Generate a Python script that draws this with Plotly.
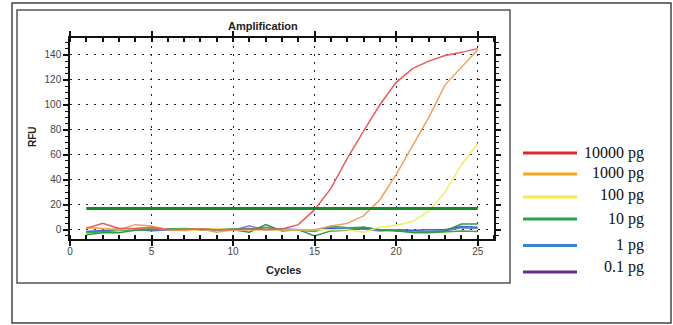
import plotly.graph_objects as go

cycles = list(range(1, 26))
s_10000 = [1, 5, 1, 1, 2, 0, 0, 0.5, 0, 0, 0, 0, 0.5, 4, 16, 33, 57, 79, 100, 118, 129, 135, 139.5, 142, 145]
s_1000 = [2, 1, 0, 4, 3, 0, 0, 0.5, -2, 0, 0, 0, 0, 0, 0, 3, 5, 11, 24, 44, 67, 90, 116, 130, 144]
s_100 = [1, 1, 0, 1, 2, 0, -1, 0, 1, 0, 0, 0, 0, 0, 0, 0, 0, -2, 2, 3.5, 6.5, 15, 30, 52, 69]
s_10 = [-4, -2.5, -2.5, -0.5, 0, 0.5, 0, 0, 0, 0, -2, 4, -1, 0, -5, -1, -0.5, 2, 0, -1, -2, -2, -1, 4.5, 4.5]
s_10_rep = [-2.5, -1.5, -1, 0, 1, 0.5, 1, 0.5, 0.5, 0, 0.5, 2, 0, 0, -1, 3, 1.5, 2, 0, 0, -2.5, -2.5, -1.5, -1, -1.5]
s_1 = [-1.5, -0.5, 0, 0.5, 0, 0, 0.5, 0, 0, 0.5, 1, 0, 0.5, 0, 0, 1, 0, 1, 0, 0, -0.5, 0, 0, 2.5, 2]
s_01 = [-2, -1, 1, 0.5, -1, 0, 0, -0.5, 1, -0.5, 3, -0.5, 0.5, -0.5, -1.5, 2, 0.5, 0.5, -1, -0.5, -1, -1.5, -1, 1.5, 1]
threshold = 17

legend_labels = ["10000 pg", "1000 pg", "100 pg", "10 pg", "1 pg", "0.1 pg"]
legend_colors = ["#e3262b", "#f4a520", "#f7ea4a", "#2ea04a", "#3585d0", "#6a2c90"]

W, H = 673, 325
PL, PR, PT, PB = 70, 494, 38, 239


def px(x):
    return (x - PL) / (PR - PL)


def py(y):
    return (PB - y) / (PB - PT)


fig = go.Figure()

series = [
    (s_01, "#8a78d6"),
    (s_1, "#3b5fd0"),
    (s_10_rep, "#3aa655"),
    (s_10, "#2f9a45"),
    (s_100, "#f2ec66"),
    (s_1000, "#f4a05a"),
    (s_10000, "#ef5a5c"),
]
for vals, col in series:
    fig.add_trace(go.Scatter(x=cycles, y=vals, mode="lines",
                             line=dict(color=col, width=1.5), showlegend=False,
                             hoverinfo="skip"))

fig.add_trace(go.Scatter(x=[cycles[0], cycles[-1]], y=[threshold, threshold], mode="lines",
                         line=dict(color="#17892a", width=3), showlegend=False))

grid_dash = "1.5px,6.5px"
fig.update_xaxes(range=[0, 26], tickvals=[0, 5, 10, 15, 20, 25], showgrid=True,
                 gridcolor="#222222", griddash=grid_dash, gridwidth=1,
                 showline=True, linecolor="#111111", linewidth=1.5, mirror="ticks",
                 ticks="outside", ticklen=5, tickcolor="#111111", tickwidth=1.5,
                 ticklabelstandoff=-3,
                 minor=dict(tickvals=list(range(0, 27)), ticks="inside", ticklen=4,
                            tickcolor="#111111", tickwidth=1.5, showgrid=False),
                 tickfont=dict(family="Liberation Sans, Arial", size=10, color="#444444"),
                 zeroline=False)
fig.update_yaxes(range=[-7.5, 153.5], tickvals=[0, 20, 40, 60, 80, 100, 120, 140], showgrid=True,
                 gridcolor="#222222", griddash=grid_dash, gridwidth=1,
                 showline=True, linecolor="#111111", linewidth=1.5, mirror="ticks",
                 ticks="outside", ticklen=5, tickcolor="#111111", tickwidth=1.5,
                 minor=dict(tickvals=list(range(-5, 155, 5)), ticks="outside", ticklen=3,
                            tickcolor="#111111", tickwidth=1, showgrid=False),
                 tickfont=dict(family="Liberation Sans, Arial", size=10, color="#444444"),
                 zeroline=False)

shapes = [
    dict(type="rect", xref="paper", yref="paper", x0=px(12), x1=px(671), y0=py(323), y1=py(3),
         line=dict(color="#444444", width=1.5), layer="below"),
    dict(type="rect", xref="paper", yref="paper", x0=px(17), x1=px(510), y0=py(283), y1=py(10),
         line=dict(color="#555555", width=1.5), layer="below"),
]
annotations = [
    dict(text="<b>Amplification</b>", xref="paper", yref="paper", x=px(263), y=py(26),
         xanchor="center", yanchor="middle",
         showarrow=False, font=dict(family="Liberation Sans, Arial", size=11, color="#222222")),
    dict(text="<b>Cycles</b>", xref="paper", yref="paper", x=px(283), y=py(270),
         xanchor="center", yanchor="middle",
         showarrow=False, font=dict(family="Liberation Sans, Arial", size=11, color="#222222")),
    dict(text="<b>RFU</b>", xref="paper", yref="paper", x=px(32), y=py(137), textangle=-90,
         xanchor="center", yanchor="middle",
         showarrow=False, font=dict(family="Liberation Sans, Arial", size=10, color="#222222")),
]

leg_line_y = [153, 174, 197, 219, 245.5, 272]
leg_text_y = [153, 173, 195, 219, 245, 267]
for lab, col, ly, ty in zip(legend_labels, legend_colors, leg_line_y, leg_text_y):
    shapes.append(dict(type="line", xref="paper", yref="paper", x0=px(523), x1=px(577),
                       y0=py(ly), y1=py(ly), line=dict(color=col, width=3)))
    annotations.append(dict(text=lab, xref="paper", yref="paper", x=px(646), y=py(ty),
                            xanchor="right", yanchor="middle", showarrow=False,
                            font=dict(family="Liberation Serif, Times New Roman", size=16,
                                      color="#111111")))

fig.update_layout(width=W, height=H, margin=dict(l=PL, r=W - PR, t=PT, b=H - PB),
                  paper_bgcolor="white", plot_bgcolor="white", shapes=shapes,
                  annotations=annotations, showlegend=False)

fig.write_html("out.html")
